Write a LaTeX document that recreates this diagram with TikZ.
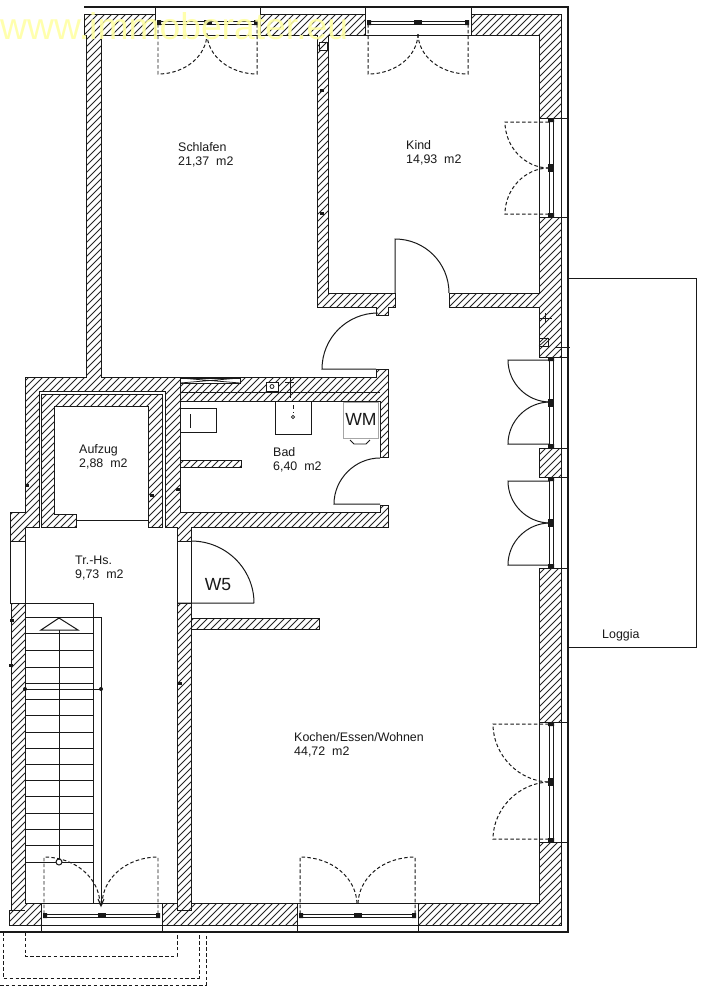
\documentclass[tikz,border=0pt]{standalone}
\usepackage{fontspec}
\setmainfont{Liberation Sans}
\definecolor{ink}{gray}{0.1}
\definecolor{hatch}{gray}{0.15}
\definecolor{mark}{RGB}{255,255,165}
\tikzset{
 x=0.03cm,y=-0.03cm,
 plan/.style={line width=0.85pt,draw=ink,line join=miter},
 thin line/.style={line width=0.65pt,draw=ink},
 swing/.style={line width=0.85pt,draw=ink,dash pattern=on 3pt off 2pt},
 swingsolid/.style={line width=0.85pt,draw=ink},
 blob/.style={fill=ink,draw=none},
 room/.style={font=\fontsize{10.6}{12}\selectfont,text=ink,align=left,inner sep=0pt,anchor=west},
 tag/.style={font=\fontsize{15}{16}\selectfont,text=ink,inner sep=0pt},
 walls/.style={insert path={
  (84,14)--(155,14)--(155,35)--(101,35)--(101,377)--(376,377)--(376,369)--(388,369)--(388,457)--(380,457)--(380,401)--(180,401)--(180,512)--(380,512)--(380,505)--(388,505)--(388,527)--(191,527)--(191,541)--(177,541)--(177,527)--(165.5,527)--(165.5,391.5)--(39.5,391.5)--(39.5,527)--(25,527)--(25,541)--(10,541)--(10,512)--(25,512)--(25,377)--(86,377)--(86,35)--(84,35)--cycle
  (41.5,394.5)--(162.5,394.5)--(162.5,527)--(148,527)--(148,406)--(54,406)--(54,514)--(76,514)--(76,527)--(41.5,527)--cycle
  (260,14)--(365,14)--(365,35)--(328,35)--(328,293)--(395,293)--(395,307)--(388,307)--(388,315)--(376,315)--(376,307)--(317,307)--(317,35)--(260,35)--cycle
  (471,14)--(561,14)--(561,118)--(539,118)--(539,35)--(471,35)--cycle
  (539,217)--(561,217)--(561,357)--(539,357)--(539,307)--(449,307)--(449,293)--(539,293)--cycle
  (539,448) rectangle (561,477)
  (539,568)--(561,568)--(561,722)--(539,722)--cycle
  (539,842)--(561,842)--(561,925)--(418,925)--(418,903)--(539,903)--cycle
  (162,903)--(177,903)--(177,603)--(191,603)--(191,903)--(297,903)--(297,925)--(162,925)--cycle
  (11,603)--(25,603)--(25,903)--(41,903)--(41,925)--(9,925)--(9,910)--(11,910)--cycle
  (180,460) rectangle (241,467)
  (191,618) rectangle (319,629)
 }},
}
\begin{document}
\begin{tikzpicture}
\useasboundingbox (0,0) rectangle (706,1000);
\fill[white] (0,0) rectangle (706,1000);
% hatching
\begin{scope}
 \clip[walls];
 \foreach \d in {-1000,-993,...,700}
  \draw[line width=0.7pt,draw=hatch] (\d,1000)--(\d+1000,0);
\end{scope}
\path[plan,walls];
% inner wall lines
\draw[thin line] (180,392)--(380,392);
\draw[thin line] (180,377)--(180,401);
\draw[plan] (11,910)--(25,910);
\draw[plan] (177,903)--(177,910)--(191,910)--(191,903);
% outer shell
\draw[line width=1.1pt,draw=ink] (84,7)--(568,7)--(568,932)--(0,932);
\draw[plan] (561,14)--(561,925)--(9,925);
% top windows
\foreach \a/\b in {155/260,365/471}{
 \draw[plan] (\a,7)--(\a,35) (\b,7)--(\b,35) (\a,35)--(\b,35);
 \draw[thin line] (\a+3,21)--(\b-3,21) (\a+3,24)--(\b-3,24);
 \fill[blob] (\a+2,20) rectangle (\a+6,25) (\b-6,20) rectangle (\b-2,25);
 \fill[blob] ({(\a+\b)/2-4},20) rectangle ({(\a+\b)/2+4},25);
}
% right windows
\foreach \a/\b in {118/217,722/842,357/448,477/568}{
 \draw[plan] (539,\a)--(568,\a) (539,\b)--(568,\b);
 \draw[thin line] (549,\a)--(549,\b) (553,\a)--(553,\b);
 \fill[blob] (548,\a) rectangle (554,\a+4) (548,\b-4) rectangle (554,\b);
 \fill[blob] (548,{(\a+\b)/2-4}) rectangle (554,{(\a+\b)/2+4});
}
\draw[plan] (539,118)--(539,217) (539,722)--(539,842);
% bottom windows
\foreach \a/\b in {41/162,297/418}{
 \draw[plan] (\a,903)--(\a,932) (\b,903)--(\b,932) (\a,903)--(\b,903);
 \draw[thin line] (\a+2,914)--(\b-2,914) (\a+2,917)--(\b-2,917);
 \fill[blob] (\a+2,913) rectangle (\a+6,918) (\b-6,913) rectangle (\b-2,918);
 \fill[blob] ({(\a+\b)/2-4},913) rectangle ({(\a+\b)/2+4},918);
}
\draw[plan] (25,903)--(177,903);
% hall openings
\draw[plan] (10,541)--(10,603)--(25,603) (25,541)--(25,603);
\draw[plan] (177,541)--(177,603) (191,541)--(191,603);
% elevator door line
\draw[plan] (76,520.5)--(148,520.5);
% dashed doors
\draw[swing] (158,24)--(158,74) .. controls (185,74) and (207,56) .. (207,33);
\draw[swing] (257,24)--(257,74) .. controls (230,74) and (207,56) .. (207,33);
\draw[swing] (368,24)--(368,74) .. controls (396,74) and (418,56) .. (418,33);
\draw[swing] (468,24)--(468,74) .. controls (440,74) and (418,56) .. (418,33);
\draw[swing] (549,122)--(505,122) .. controls (505,147) and (525,168) .. (549,168);
\draw[swing] (549,214)--(505,214) .. controls (505,189) and (525,168) .. (549,168);
\draw[swing] (549,724)--(493,724) .. controls (493,756) and (520,782) .. (550,782);
\draw[swing] (549,839)--(493,839) .. controls (493,808) and (520,782) .. (550,782);
\draw[swing] (300,914)--(300,857) .. controls (332,857) and (357,878) .. (357,905);
\draw[swing] (415,914)--(415,857) .. controls (383,857) and (358,878) .. (358,905);
\draw[swing] (44,914)--(44,857) .. controls (75,857) and (100,878) .. (100,905);
\draw[swing] (158,914)--(158,857) .. controls (127,857) and (102,878) .. (102,905);
% solid doors
\draw[swingsolid] (550,360)--(508,360) .. controls (508,383) and (527,402) .. (550,402);
\draw[swingsolid] (550,444)--(508,444) .. controls (508,421) and (527,402) .. (550,402);
\draw[swingsolid] (550,481)--(508,481) .. controls (508,504) and (527,523) .. (550,523);
\draw[swingsolid] (550,565)--(508,565) .. controls (508,542) and (527,523) .. (550,523);
\draw[swingsolid] (395,293)--(395,239) .. controls (425,239) and (449,263) .. (449,293);
\draw[swingsolid] (376,369)--(322,369) .. controls (322,338) and (347,313) .. (378,313);
\draw[swingsolid] (380,504)--(334,504) .. controls (334,479) and (355,458) .. (380,458);
\draw[swingsolid] (254,603)--(177,603) (191,541) .. controls (226,541) and (254,569) .. (254,603);
% loggia
\draw[plan] (568,278)--(696,278)--(696,647)--(568,647);
% stairs
\draw[plan] (25,603.5)--(93,603.5)--(93,903);
\draw[plan] (25,617)--(101,617)--(101,903);
\foreach \y in {633,650,667,683,699,715,732,748,764,780,796,813,829,845,862}
 \draw[plan] (25,\y)--(93,\y);
\draw[plan] (25,689)--(101,689);
\fill[blob] (25,689) circle (2) (101,689) circle (2);
\draw[plan] (59,630)--(59,859);
\draw[plan,fill=white] (59,862) circle (3);
\draw[plan] (41,630)--(59,618)--(78,630)--cycle;
\draw[plan] (98,899)--(101,906)--(104,899);
% entrance dashed outlines
\draw[swing] (25,932)--(25,956)--(177,956)--(177,932);
\draw[swing] (3,932)--(3,978)--(199,978)--(199,932);
\draw[swing] (0,985)--(206,985)--(206,932);
% bathroom fittings
\draw[plan] (180,408)--(216,408)--(216,432)--(180,432);
\draw[plan] (190,414)--(190,428);
\draw[plan] (275,402)--(275,434)--(311,434)--(311,402);
\draw[thin line,dashed] (293,405)--(293,413);
\draw[thin line] (293,417) circle (1.7);
\draw[line width=0.8pt,draw=gray!70] (343,402) rectangle (378,438);
\draw[thin line] (350,440)--(354,444)--(366,444)--(370,440);
% vent and shafts
\draw[thin line,fill=white] (180,378) rectangle (240,383);
\draw[thin line] (180,378)--(240,383) (180,383)--(240,378);
\draw[thin line,fill=white] (266,382) rectangle (278,391);
\draw[thin line] (272,386.5) circle (2);
\draw[thin line] (290,378)--(290,398) (285,382)--(294,382);
\draw[thin line,fill=white] (319,42) rectangle (327,50);
\draw[thin line] (319,50)--(327,42);
\draw[thin line] (539,346) rectangle (548,338);
\draw[thin line] (539,346)--(548,338);
\draw[thin line] (539,318)--(552,318) (545,313)--(545,323);
\draw[thin line] (555,347)--(570,347) (561,342)--(561,352);
\foreach \x/\y in {322/90,322/213,27/485,178/489,152/495,12/620,180/683,11/665}
 \fill[blob] (\x-2,\y-1.5) rectangle (\x+2,\y+1.5);
% labels
\node[room] (schlafen) at (178,154.5) {Schlafen\\21,37\ \ m2};
\node[room] (kind) at (406,152.5) {Kind\\14,93\ \ m2};
\node[room] (aufzug) at (79,456.5) {Aufzug\\2,88\ \ m2};
\node[room] (bad) at (273,459.5) {Bad\\6,40\ \ m2};
\node[room] (trhs) at (75,568) {Tr.-Hs.\\9,73\ \ m2};
\node[room] (kochen) at (294,745) {Kochen/Essen/Wohnen\\44,72\ \ m2};
\node[room] (loggia) at (602,635) {Loggia};
\node[tag] (wm) at (361,419) {WM};
\node[tag] (wfive) at (218,585) {W5};
% watermark
\node[anchor=west,inner sep=0pt,text=mark,text opacity=0.9,font=\fontsize{31.8}{34}\selectfont] (watermark) at (0,26) {www.immoberater.eu};
\end{tikzpicture}
\end{document}
